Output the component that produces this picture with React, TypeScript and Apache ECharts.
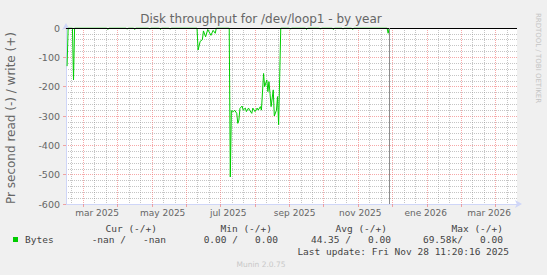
import React, { useEffect, useRef } from "react";
import * as echarts from "echarts";

// Time range of the plot (x axis), and the "now" rule
const START = "2025-01-31";
const END = "2026-03-27";
const NOW = "2025-11-28";

// Series "Bytes" (read side, plotted negative)
const dates = [
  "2025-02-01", "2025-02-02", "2025-02-06", "2025-02-07", "2025-02-08",
  "2025-03-10", "2025-03-11", "2025-03-12",
  "2025-03-28", "2025-03-29", "2025-03-30",
  "2025-04-04", "2025-04-05", "2025-04-06",
  "2025-04-18", "2025-04-19", "2025-04-20",
  "2025-04-28", "2025-04-29", "2025-04-30",
  "2025-05-07", "2025-05-08", "2025-05-09",
  "2025-06-02", "2025-06-03", "2025-06-05", "2025-06-07", "2025-06-08", "2025-06-10",
  "2025-06-12", "2025-06-15", "2025-06-17", "2025-06-19", "2025-06-20",
  "2025-07-02", "2025-07-03", "2025-07-04", "2025-07-06", "2025-07-07", "2025-07-09",
  "2025-07-10", "2025-07-11", "2025-07-12", "2025-07-14", "2025-07-15", "2025-07-17",
  "2025-07-18", "2025-07-20", "2025-07-21", "2025-07-23", "2025-07-24", "2025-07-26",
  "2025-07-28", "2025-07-29", "2025-07-31", "2025-08-01", "2025-08-03", "2025-08-04",
  "2025-08-06", "2025-08-07", "2025-08-08", "2025-08-09", "2025-08-10", "2025-08-12",
  "2025-08-13", "2025-08-15", "2025-08-16", "2025-08-17", "2025-08-18", "2025-08-19",
  "2025-08-27", "2025-08-28", "2025-08-29",
  "2025-09-11", "2025-09-12", "2025-09-13",
  "2025-09-24", "2025-09-25", "2025-09-26",
  "2025-10-06", "2025-10-07", "2025-10-08",
  "2025-10-15", "2025-10-16", "2025-10-17",
  "2025-10-24", "2025-10-25", "2025-10-26",
  "2025-11-26", "2025-11-27", "2025-11-28",
];
const values = [
  -130, 0, 0, -177, 0,
  0, -5, 0,
  0, -4, 0,
  0, -5, 0,
  0, -4, 0,
  0, -5, 0,
  0, -4, 0,
  0, -75, -45, -40, -10, -30,
  -5, -25, -8, -18, 0,
  0, -508, -282, -285, -280, -291,
  -325, -314, -274, -266, -280, -273,
  -285, -273, -280, -291, -273, -285,
  -273, -280, -268, -280, -155, -200,
  -177, -217, -183, -223, -268, -211,
  -300, -280, -234, -330, -166, 0,
  0, -4, 0,
  0, -5, 0,
  0, -4, 0,
  0, -5, 0,
  0, -4, 0,
  0, -5, 0,
  0, -18, 0,
];

const Y_MIN = -600;
const Y_MAX = 0;
const Y_STEP = 100;

// rrdtool-style uniform vertical grid, counted in 8-hour steps
const STEPS_PER_DAY = 3;
const MINOR_EVERY = 32; // steps between minor grid lines
const MAJOR_EVERY = 96; // steps between major (red) grid lines
const GRID_OFFSET = 16; // steps from the left edge to the first minor line

const monthNames = ["ene", "feb", "mar", "abr", "may", "jun", "jul", "ago", "sep", "oct", "nov", "dic"];

const TITLE = "Disk throughput for /dev/loop1 - by year";
const Y_NAME = "Pr second read (-) / write (+)";
const legendName = "Bytes";
const legendHeaders = ["Cur (-/+)", "Min (-/+)", "Avg (-/+)", "Max (-/+)"];
const legendValues = ["-nan /   -nan", "0.00 /   0.00", "44.35 /   0.00", "69.58k/   0.00"];
const lastUpdate = "Last update: Fri Nov 28 11:20:16 2025";
const footer = "Munin 2.0.75";
const watermark = "RRDTOOL / TOBI OETIKER";

function toLocal(s: string): number {
  const [y, m, d] = s.split("-").map(Number);
  return new Date(y, m - 1, d).getTime();
}

function buildDays(start: string, end: string): string[] {
  const out: string[] = [];
  const [y, m, d] = start.split("-").map(Number);
  const [y2, m2, d2] = end.split("-").map(Number);
  let t = Date.UTC(y, m - 1, d);
  const tEnd = Date.UTC(y2, m2 - 1, d2);
  while (t <= tEnd) {
    out.push(new Date(t).toISOString().slice(0, 10));
    t += 86400000;
  }
  return out;
}

const MAJOR = "rgba(240,110,110,0.6)";
const MINOR = "rgba(140,140,140,0.5)";
const AXIS = "#CFD6F8";
const FONT = "#666666";

export default function App() {
  const ref = useRef<HTMLDivElement>(null);

  useEffect(() => {
    if (!ref.current) return;
    const chart = echarts.init(ref.current, null, { renderer: "svg" });
    const days = buildDays(START, END);
    const steps: string[] = [];
    for (let i = 0; i <= (days.length - 1) * STEPS_PER_DAY; i++) steps.push(String(i));

    const dayOf = (v: string) => parseInt(v.slice(8, 10), 10);
    const monOf = (v: string) => parseInt(v.slice(5, 7), 10) - 1;
    const isLabel = (_i: number, v: string) => dayOf(v) === 1 && monOf(v) % 2 === 0;
    const isMajor = (i: number) => i >= GRID_OFFSET && (i - GRID_OFFSET - MINOR_EVERY) % MAJOR_EVERY === 0;
    const isMinor = (i: number) => i >= GRID_OFFSET && (i - GRID_OFFSET) % MINOR_EVERY === 0 && !isMajor(i);

    const mono = '9.5px "DejaVu Sans Mono"';
    const graphic: any[] = [
      { type: "text", x: 261, y: 19, style: { text: TITLE, fill: FONT, font: '12px "DejaVu Sans"', textAlign: "center", textVerticalAlign: "middle" } },
      { type: "text", x: 11, y: 118, rotation: Math.PI / 2, style: { text: Y_NAME, fill: FONT, font: '12px "DejaVu Sans"', textAlign: "center", textVerticalAlign: "middle" } },
      { type: "text", x: 538, y: 58, rotation: -Math.PI / 2, style: { text: watermark, fill: "#c4c4c4", font: '7px "DejaVu Sans"', textAlign: "center", textVerticalAlign: "middle" } },
      { type: "rect", shape: { x: 13, y: 237, width: 5, height: 5 }, style: { fill: "#00CC00" } },
      { type: "text", x: 25, y: 239.5, style: { text: legendName, fill: "#444", font: mono, textAlign: "left", textVerticalAlign: "middle" } },
      { type: "text", x: 509, y: 251.7, style: { text: lastUpdate, fill: "#444", font: mono, textAlign: "right", textVerticalAlign: "middle" } },
      { type: "text", x: 261, y: 264, style: { text: footer, fill: "#c8c8c8", font: '7.5px "DejaVu Sans"', textAlign: "center", textVerticalAlign: "middle" } },
    ];
    const headerRight = [157, 272, 387, 503];
    const valueRight = [166, 278, 391, 503];
    legendHeaders.forEach((h, i) => {
      graphic.push({ type: "text", x: headerRight[i], y: 228, style: { text: h, fill: "#444", font: mono, textAlign: "right", textVerticalAlign: "middle" } });
    });
    legendValues.forEach((h, i) => {
      graphic.push({ type: "text", x: valueRight[i], y: 239.5, style: { text: h, fill: "#444", font: mono, textAlign: "right", textVerticalAlign: "middle" } });
    });

    const option: any = {
      animation: false,
      backgroundColor: "#f0f0f0",
      grid: { left: 66, right: 30, top: 28, bottom: 71, show: true, backgroundColor: "#ffffff", borderWidth: 0 },
      xAxis: [
        { type: "time", min: toLocal(START), max: toLocal(END), show: false },
        {
          type: "category",
          data: days,
          boundaryGap: false,
          position: "bottom",
          axisLine: { show: false, onZero: false },
          axisTick: { show: false },
          axisLabel: {
            interval: isLabel,
            formatter: (v: string) => monthNames[monOf(v)] + " " + v.slice(0, 4),
            color: FONT,
            fontSize: 9,
            fontFamily: "DejaVu Sans",
            margin: 4,
          },
          splitLine: { show: false },
        },
        {
          type: "category",
          data: steps,
          boundaryGap: false,
          position: "bottom",
          axisLine: { show: false, onZero: false },
          axisTick: { show: false },
          axisLabel: { show: false },
          splitLine: { show: true, interval: (i: number) => isMinor(i), lineStyle: { color: MINOR, type: [1, 1], width: 1 } },
        },
        {
          type: "category",
          data: steps,
          boundaryGap: false,
          position: "bottom",
          axisLine: { show: true, onZero: false, lineStyle: { color: AXIS }, symbol: ["none", "arrow"], symbolSize: [6, 7], symbolOffset: [0, 5] },
          axisTick: { show: true, interval: (i: number) => isMajor(i), length: 3, lineStyle: { color: MAJOR } },
          axisLabel: { show: false },
          splitLine: { show: true, interval: (i: number) => isMajor(i), lineStyle: { color: MAJOR, type: [1, 1], width: 1 } },
        },
      ],
      yAxis: {
        type: "value",
        min: Y_MIN,
        max: Y_MAX,
        interval: Y_STEP,
        axisLine: { show: true, onZero: false, lineStyle: { color: AXIS }, symbol: ["none", "arrow"], symbolSize: [6, 7], symbolOffset: [0, 5] },
        axisTick: { show: true, length: 3, lineStyle: { color: MAJOR } },
        axisLabel: { color: FONT, fontSize: 9.5, fontFamily: "DejaVu Sans", margin: 6 },
        splitLine: { show: true, lineStyle: { color: MAJOR, type: [1, 1], width: 1 } },
        minorTick: { show: false, splitNumber: 5 },
        minorSplitLine: { show: true, lineStyle: { color: MINOR, type: [1, 1], width: 1 } },
      },
      series: [
        {
          type: "line",
          name: legendName,
          xAxisIndex: 0,
          data: dates.map((d, i) => [toLocal(d), values[i]]),
          showSymbol: false,
          symbol: "none",
          lineStyle: { color: "#00CC00", width: 1 },
          markLine: {
            silent: true,
            symbol: ["none", "none"],
            label: { show: false },
            data: [
              { yAxis: 0, lineStyle: { color: "#000000", width: 1, type: "solid" } },
              { xAxis: toLocal(NOW), lineStyle: { color: "#8c8c8c", width: 1, type: "solid" } },
            ],
          },
        },
      ],
      graphic,
    };
    chart.setOption(option);
    return () => chart.dispose();
  }, []);

  return (
    <div
      ref={ref}
      style={{ position: "fixed", left: 0, top: 0, width: 547, height: 275, background: "#f0f0f0" }}
    />
  );
}
